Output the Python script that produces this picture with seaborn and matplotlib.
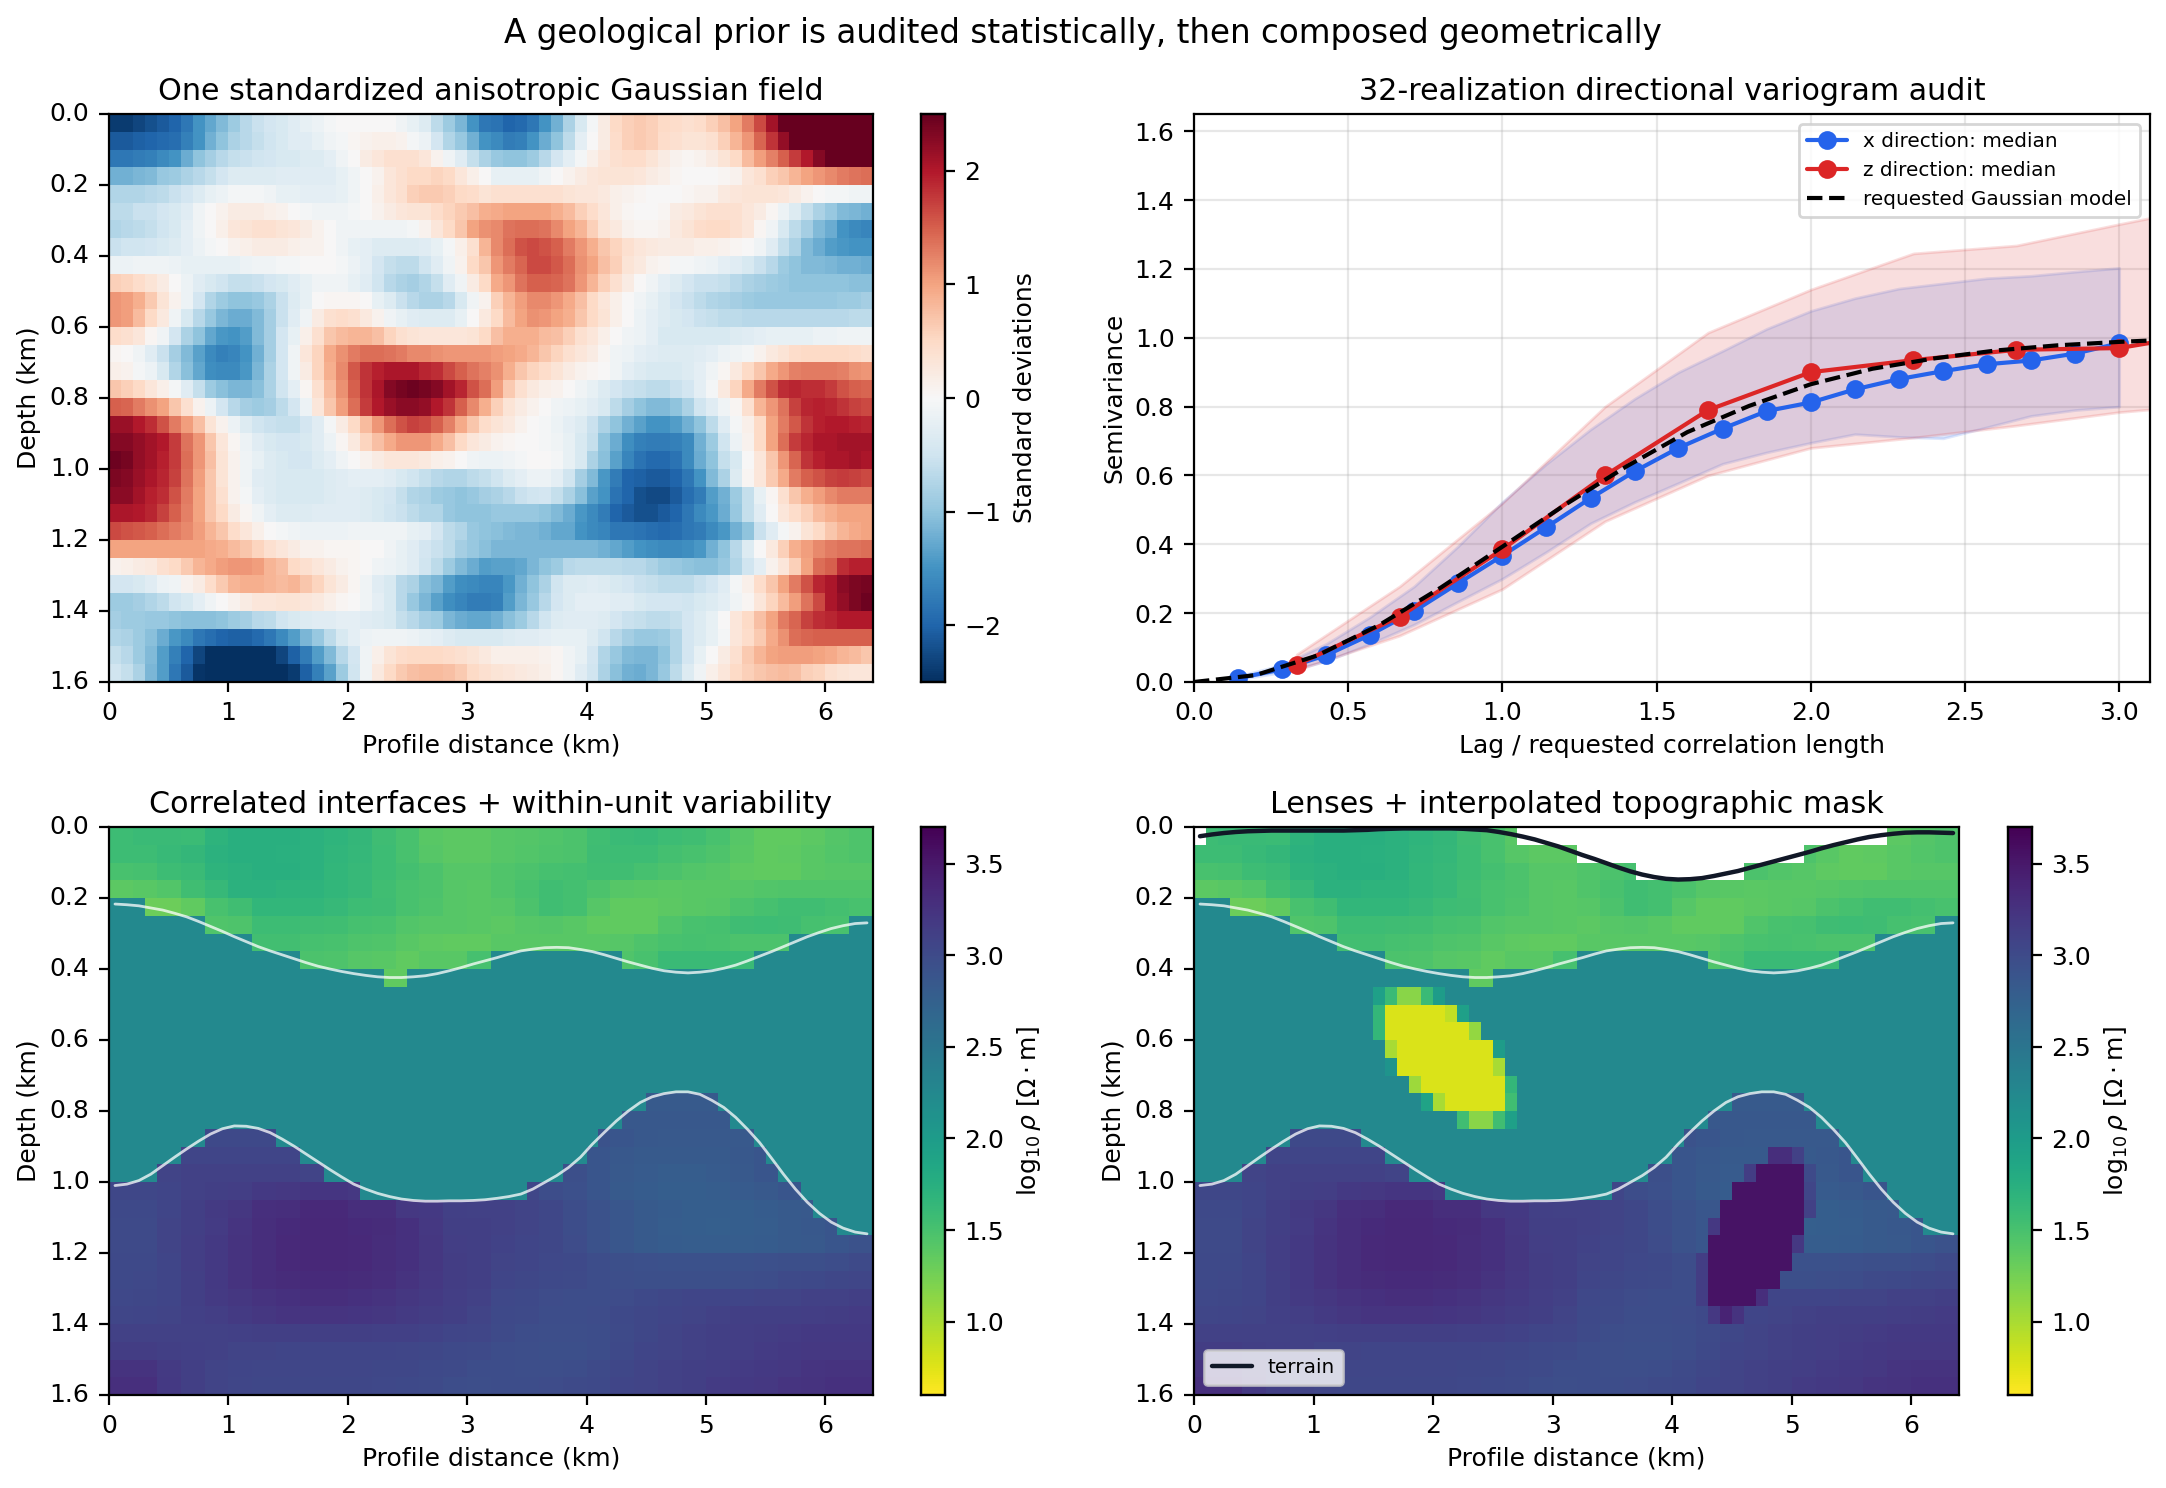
"""
Geological prior figure: gaussian field, variogram audit, layered resistivity models
"""
import numpy as np
import matplotlib
matplotlib.use('Agg')
import matplotlib.pyplot as plt
import seaborn as sns

# ---- standardized field, 32 rows x 64 columns, read cell by cell ----
FIELD_ROWS = [
    [-2.4,-2.4,-2.3,-2.2,-2.1,-2.0,-1.8,-1.5,-1.3,-1.1,-.9,-.7,-.55,-.45,-.4,-.3,-.2,-.15,-.05,0,0,0,0,0,-.1,-.2,-.35,-.65,-.9,-1.15,-1.5,-1.8,
     -1.85,-2.0,-1.95,-1.8,-1.5,-1.2,-.8,-.4,-.05,.2,.5,.6,.65,.6,.5,.45,.4,.45,.6,.75,1.0,1.3,1.65,2.1,2.5,2.5,2.5,2.5,2.5,2.5,2.5,2.5],
    [-2.1,-2.1,-2.05,-2.0,-1.95,-1.9,-1.7,-1.5,-1.2,-1.0,-.8,-.7,-.6,-.5,-.4,-.3,-.3,-.2,-.1,-.05,.05,.1,.15,.15,.1,-.05,-.15,-.45,-.75,-.95,-1.2,-1.5,
     -1.6,-1.75,-1.7,-1.5,-1.25,-1.0,-.65,-.25,0,.2,.45,.6,.65,.6,.45,.4,.35,.35,.4,.6,.85,1.1,1.45,1.8,2.2,2.5,2.5,2.5,2.5,2.5,2.5,2.5],
    [-1.8,-1.8,-1.75,-1.7,-1.6,-1.5,-1.25,-1.0,-.85,-.7,-.6,-.55,-.5,-.45,-.4,-.4,-.35,-.35,-.25,-.1,0,.2,.3,.4,.4,.4,.3,.1,-.1,-.3,-.6,-.8,
     -.95,-1.0,-1.0,-.9,-.7,-.45,-.25,-.05,.15,.3,.4,.45,.45,.35,.2,.1,.05,.1,.2,.35,.5,.8,1.05,1.25,1.5,1.75,2.0,2.3,2.5,2.5,2.5,2.5],
    [-1.2,-1.2,-1.15,-1.1,-.95,-.9,-.8,-.7,-.6,-.45,-.35,-.35,-.35,-.35,-.3,-.3,-.3,-.3,-.3,-.2,-.1,0,.1,.3,.4,.5,.5,.55,.5,.3,.15,0,
     -.2,-.2,-.2,-.2,-.1,0,.1,.2,.3,.35,.35,.35,.3,.2,.15,.05,0,0,0,.05,.1,.3,.4,.6,.7,.85,1.0,1.1,1.2,1.3,1.35,1.4],
    [-.75,-.75,-.75,-.7,-.65,-.55,-.45,-.35,-.2,-.15,-.05,-.05,-.05,-.1,-.2,-.2,-.25,-.25,-.25,-.2,-.1,0,.15,.3,.4,.6,.65,.65,.6,.5,.45,.35,
     .4,.4,.4,.4,.4,.4,.35,.3,.3,.25,.15,.1,.05,0,0,0,.05,.1,.1,.25,.3,.35,.35,.35,.3,.2,.1,0,-.05,-.05,-.1,-.1],
    [-.65,-.65,-.55,-.55,-.45,-.4,-.3,-.1,0,.1,.2,.2,.2,.15,.1,0,-.05,-.1,-.1,-.1,-.05,0,.1,.2,.3,.35,.35,.45,.55,.65,.75,.9,
     .95,1.0,1.0,1.0,1.0,.9,.8,.6,.45,.3,.15,.05,0,0,.05,.2,.25,.35,.4,.4,.4,.3,.2,.05,-.15,-.35,-.6,-.8,-.95,-1.1,-1.15,-1.2],
    [-.75,-.7,-.65,-.6,-.5,-.4,-.25,-.1,0,.15,.3,.35,.4,.4,.35,.3,.2,.1,0,-.1,-.1,-.1,-.1,-.1,-.1,-.05,.1,.3,.5,.7,1.0,1.15,
     1.2,1.35,1.4,1.4,1.35,1.2,1.0,.85,.6,.35,.25,.1,.05,.05,.1,.25,.35,.45,.5,.5,.4,.3,.05,-.1,-.4,-.65,-.85,-1.1,-1.25,-1.5,-1.6,-1.65],
    [-.55,-.5,-.5,-.45,-.4,-.35,-.25,-.15,-.05,0,.1,.15,.2,.2,.2,.15,.1,.1,0,-.1,-.2,-.25,-.35,-.35,-.35,-.35,-.3,-.2,-.05,.15,.4,.85,
     1.2,1.4,1.6,1.65,1.6,1.5,1.3,1.1,.9,.7,.55,.4,.3,.25,.2,.2,.2,.15,.15,.1,.05,0,-.1,-.3,-.6,-.8,-1.1,-1.25,-1.4,-1.45,-1.5,-1.5],
    [-.15,-.15,-.1,-.1,-.1,-.15,-.2,-.2,-.2,-.2,-.2,-.15,-.1,-.1,-.05,-.05,0,0,0,-.05,-.15,-.25,-.45,-.6,-.65,-.65,-.5,-.3,-.1,.1,.5,.7,
     1.1,1.3,1.45,1.65,1.65,1.55,1.4,1.15,1.0,.75,.6,.35,.25,.1,.05,-.05,-.05,-.1,-.15,-.25,-.3,-.4,-.55,-.7,-.9,-1.0,-1.1,-1.1,-1.15,-1.2,-1.2,-1.25],
    [.6,.55,.45,.35,.2,0,-.15,-.3,-.4,-.5,-.6,-.6,-.55,-.45,-.4,-.3,-.2,-.1,-.1,-.1,-.2,-.3,-.5,-.7,-.8,-.85,-.75,-.6,-.3,-.1,.2,.5,
     .95,1.1,1.35,1.5,1.5,1.45,1.35,1.1,.85,.6,.4,.2,0,-.1,-.25,-.35,-.45,-.55,-.55,-.6,-.7,-.8,-.85,-.9,-.95,-1.0,-1.0,-1.0,-1.0,-1.0,-1.05,-1.05],
    [1.1,1.05,.9,.65,.35,.1,-.15,-.45,-.75,-.9,-1.0,-1.0,-.95,-.8,-.55,-.35,-.2,0,.05,.05,.05,0,-.2,-.35,-.55,-.7,-.8,-.8,-.7,-.4,-.1,.1,
     .6,.85,1.05,1.2,1.2,1.1,.95,.75,.5,.3,.15,0,-.1,-.2,-.35,-.45,-.55,-.65,-.75,-.8,-.85,-.9,-.95,-.95,-.95,-.95,-.95,-.95,-.95,-.9,-.9,-.85],
    [1.1,1.05,.8,.5,.25,-.1,-.4,-.7,-.95,-1.15,-1.25,-1.25,-1.1,-.85,-.55,-.3,-.1,.2,.4,.45,.4,.25,.1,-.1,-.2,-.3,-.35,-.35,-.35,-.2,0,.25,
     .5,.8,1.0,1.15,1.1,1.0,.9,.7,.5,.35,.15,0,-.15,-.25,-.35,-.4,-.45,-.55,-.6,-.65,-.65,-.7,-.7,-.7,-.7,-.7,-.7,-.7,-.7,-.7,-.65,-.65],
    [.45,.4,.3,.05,-.1,-.45,-.8,-1.0,-1.3,-1.45,-1.5,-1.4,-1.1,-.85,-.45,-.2,.15,.4,.7,.8,.85,.85,.75,.55,.4,.35,.3,.3,.3,.3,.35,.5,
     .75,.9,.9,.9,.8,.75,.6,.4,.3,.15,0,-.1,-.15,-.25,-.4,-.4,-.4,-.4,-.4,-.4,-.35,-.3,-.25,-.2,-.2,-.2,-.2,-.15,-.15,-.1,-.1,-.1],
    [.05,0,-.1,-.3,-.55,-.85,-1.1,-1.35,-1.6,-1.7,-1.65,-1.5,-1.2,-.85,-.45,-.1,.3,.55,.95,1.15,1.3,1.4,1.4,1.35,1.3,1.2,1.2,1.15,1.1,1.1,1.1,1.1,
     1.05,1.0,.95,.85,.7,.55,.4,.3,.2,.05,-.1,-.15,-.25,-.3,-.35,-.35,-.35,-.3,-.25,-.15,-.1,-.05,.1,.25,.35,.45,.5,.5,.5,.5,.45,.4],
    [.15,.1,-.05,-.15,-.4,-.75,-1.05,-1.3,-1.55,-1.6,-1.6,-1.45,-1.15,-.8,-.45,-.1,.2,.55,.9,1.2,1.55,1.8,1.95,2.05,2.05,2.05,1.9,1.85,1.65,1.5,1.35,1.25,
     1.15,.9,.7,.55,.45,.35,.2,.1,.05,0,-.1,-.25,-.35,-.4,-.4,-.4,-.35,-.25,-.1,.05,.25,.5,.7,.95,1.1,1.25,1.3,1.3,1.3,1.25,1.15,1.1],
    [.7,.6,.5,.3,.15,-.05,-.3,-.6,-.9,-1.05,-1.15,-1.15,-1.05,-.8,-.5,-.25,.05,.4,.8,1.15,1.5,1.8,2.05,2.3,2.4,2.45,2.4,2.3,2.1,1.9,1.6,1.4,
     1.05,.65,.4,.25,.15,.1,0,-.1,-.2,-.35,-.45,-.55,-.6,-.65,-.65,-.55,-.45,-.25,-.05,.25,.55,.95,1.3,1.6,1.85,1.9,1.85,1.85,1.75,1.6,1.5,1.45],
    [1.5,1.45,1.3,1.15,1.0,.7,.4,.1,-.15,-.45,-.7,-.85,-.9,-.85,-.65,-.45,-.15,.3,.7,1.05,1.4,1.75,2.0,2.15,2.25,2.25,2.2,2.0,1.8,1.5,1.2,.9,
     .6,.35,.2,.1,0,-.1,-.15,-.2,-.3,-.4,-.65,-.85,-1.0,-1.1,-1.1,-1.0,-.8,-.5,-.3,-.1,.05,.4,.85,1.1,1.35,1.7,1.9,1.95,1.9,1.8,1.7,1.65],
    [2.15,2.15,2.0,1.85,1.6,1.3,1.05,.75,.35,.1,-.15,-.35,-.5,-.55,-.6,-.6,-.45,-.3,-.05,.2,.5,.8,1.1,1.4,1.6,1.7,1.65,1.5,1.25,.95,.7,.45,
     .35,.25,.1,0,-.05,-.15,-.25,-.35,-.55,-.8,-1.0,-1.2,-1.35,-1.5,-1.5,-1.4,-1.2,-1.0,-.65,-.3,-.05,.15,.5,1.0,1.3,1.55,1.8,1.95,2.0,2.0,1.95,1.9],
    [2.3,2.3,2.2,2.1,2.0,1.75,1.35,1.1,.7,.3,.05,-.15,-.3,-.4,-.45,-.45,-.4,-.3,-.15,.05,.25,.55,.75,.95,1.1,1.1,1.1,.95,.75,.5,.3,.2,
     .1,.05,0,0,-.05,-.1,-.2,-.4,-.6,-1.0,-1.25,-1.55,-1.7,-1.75,-1.75,-1.7,-1.6,-1.2,-.9,-.5,-.15,.1,.5,1.0,1.4,1.75,1.9,2.05,2.05,2.1,2.1,2.1],
    [2.45,2.4,2.2,2.1,1.95,1.75,1.4,1.1,.75,.35,.1,-.1,-.2,-.35,-.4,-.45,-.45,-.35,-.25,-.1,0,.1,.2,.3,.3,.3,.25,.15,.1,0,-.1,-.15,
     -.15,-.1,-.05,0,0,-.05,-.2,-.4,-.8,-1.05,-1.35,-1.65,-1.85,-1.95,-1.95,-1.85,-1.6,-1.25,-1.0,-.6,-.4,0,.3,.7,1.1,1.45,1.8,1.95,2.05,2.05,2.1,2.05],
    [2.35,2.3,2.15,2.05,1.9,1.7,1.35,1.05,.7,.35,.1,-.1,-.3,-.35,-.4,-.4,-.4,-.4,-.35,-.3,-.25,-.25,-.25,-.3,-.4,-.5,-.6,-.7,-.75,-.75,-.65,-.6,
     -.5,-.35,-.25,-.15,-.15,-.25,-.5,-.85,-1.1,-1.45,-1.75,-2.0,-2.05,-2.1,-2.1,-2.0,-1.8,-1.5,-1.1,-.8,-.35,.05,.3,.65,.95,1.3,1.5,1.6,1.7,1.75,1.7,1.65],
    [2.25,2.25,2.1,1.95,1.85,1.6,1.3,1.0,.7,.4,.1,-.05,-.25,-.35,-.4,-.4,-.4,-.4,-.35,-.3,-.3,-.35,-.4,-.45,-.6,-.75,-.8,-.9,-.95,-1.0,-.95,-.85,
     -.8,-.7,-.55,-.5,-.45,-.6,-.8,-1.05,-1.35,-1.5,-1.85,-2.0,-2.2,-2.25,-2.25,-2.1,-1.9,-1.75,-1.4,-1.2,-.9,-.6,-.2,.05,.4,.7,.9,1.05,1.2,1.3,1.3,1.3],
    [2.05,2.05,2.0,1.9,1.7,1.5,1.25,1.0,.7,.5,.2,.05,-.1,-.25,-.35,-.35,-.35,-.3,-.3,-.3,-.3,-.35,-.4,-.5,-.55,-.65,-.75,-.75,-.95,-1.0,-1.0,-1.0,
     -.95,-.95,-.95,-.95,-1.0,-1.1,-1.25,-1.45,-1.6,-1.75,-2.0,-2.1,-2.2,-2.2,-2.1,-2.0,-1.8,-1.6,-1.45,-1.25,-.95,-.6,-.3,0,.3,.45,.6,.8,.9,1.0,1.0,1.0],
    [1.65,1.6,1.55,1.5,1.4,1.3,1.2,1.05,.85,.7,.45,.3,.15,0,-.05,-.1,-.15,-.15,-.15,-.15,-.1,-.1,-.1,-.1,-.1,-.2,-.25,-.45,-.65,-.75,-.95,-1.0,
     -1.05,-1.1,-1.15,-1.15,-1.2,-1.3,-1.3,-1.5,-1.6,-1.65,-1.8,-1.8,-1.85,-1.9,-1.95,-1.9,-1.8,-1.75,-1.6,-1.45,-1.2,-1.0,-.55,-.3,-.05,.1,.35,.5,.7,.85,.95,1.0],
    [1.0,1.0,1.0,1.0,1.0,1.0,1.0,1.0,.95,.9,.8,.7,.55,.4,.3,.2,.1,.1,.05,.05,.05,0,0,-.1,-.2,-.3,-.45,-.55,-.65,-.85,-.95,-1.05,
     -1.15,-1.15,-1.15,-1.15,-1.15,-1.15,-1.15,-1.15,-1.15,-1.2,-1.3,-1.4,-1.5,-1.55,-1.6,-1.6,-1.55,-1.45,-1.2,-1.0,-.7,-.35,0,.25,.6,.9,1.05,1.2,1.3,1.35,1.35,1.4],
    [.1,.15,.2,.25,.4,.5,.65,.85,.95,1.05,1.1,1.1,1.05,.85,.75,.5,.4,.3,.2,.1,.05,0,-.1,-.15,-.2,-.3,-.5,-.65,-.9,-1.1,-1.25,-1.4,
     -1.35,-1.35,-1.3,-1.15,-1.0,-.9,-.7,-.65,-.65,-.65,-.65,-.7,-.7,-.8,-.9,-.95,-1.0,-1.05,-1.05,-.95,-.75,-.5,-.25,.1,.3,.6,1.0,1.4,1.5,1.85,1.95,1.95],
    [-.45,-.45,-.4,-.3,-.15,-.1,.1,.2,.45,.65,.85,.9,.9,.85,.8,.85,.7,.55,.35,.2,.05,-.1,-.3,-.4,-.7,-.8,-1.05,-1.15,-1.4,-1.55,-1.6,-1.65,
     -1.65,-1.45,-1.2,-1.0,-.8,-.5,-.35,-.35,-.3,-.35,-.4,-.45,-.55,-.6,-.65,-.65,-.65,-.55,-.45,-.3,-.05,.15,.45,.7,1.0,1.3,1.6,1.9,2.05,2.25,2.35,2.4],
    [-.9,-.9,-.85,-.75,-.65,-.5,-.4,-.25,-.1,0,.1,.2,.3,.3,.35,.35,.3,.25,.15,.05,0,-.1,-.25,-.4,-.7,-.95,-1.15,-1.35,-1.55,-1.65,-1.75,-1.75,
     -1.7,-1.4,-1.15,-.95,-.7,-.45,-.35,-.25,-.25,-.25,-.3,-.3,-.4,-.45,-.45,-.45,-.5,-.4,-.35,-.25,-.1,.05,.3,.55,.8,1.05,1.35,1.65,2.05,2.2,2.35,2.45],
    [-.85,-.9,-.9,-.95,-.95,-1.0,-1.05,-1.05,-1.05,-1.0,-.9,-.85,-.7,-.65,-.5,-.4,-.35,-.3,-.3,-.25,-.25,-.3,-.35,-.4,-.6,-.7,-.85,-.9,-1.15,-1.25,-1.3,-1.3,
     -1.2,-1.05,-.9,-.7,-.5,-.35,-.3,-.3,-.3,-.35,-.45,-.55,-.6,-.65,-.65,-.6,-.45,-.35,-.2,0,.3,.5,.75,1.0,1.3,1.45,1.7,1.85,1.9,2.0,2.0,2.0],
    [-.75,-.8,-.9,-1.05,-1.25,-1.45,-1.6,-1.8,-1.9,-2.0,-2.05,-2.05,-1.95,-1.8,-1.6,-1.4,-1.15,-.95,-.65,-.4,-.25,-.15,-.1,-.1,-.1,-.15,-.2,-.25,-.35,-.4,-.4,-.4,
     -.4,-.35,-.3,-.3,-.25,-.2,-.2,-.2,-.35,-.5,-.7,-.85,-.95,-.95,-.9,-.75,-.45,-.35,-.2,-.05,.3,.45,.65,.95,1.15,1.4,1.45,1.5,1.5,1.5,1.5,1.5],
    [-.6,-.7,-.9,-1.1,-1.4,-1.7,-2.0,-2.3,-2.5,-2.5,-2.5,-2.5,-2.5,-2.5,-2.3,-2.05,-1.75,-1.4,-1.1,-.7,-.45,-.1,.15,.35,.45,.5,.5,.5,.45,.4,.35,.25,
     .15,.15,.15,.15,.1,.05,-.1,-.2,-.45,-.75,-.95,-1.1,-1.15,-1.15,-1.0,-.75,-.45,-.2,0,.2,.4,.65,.85,1.0,1.05,1.05,1.05,1.0,.95,.85,.8,.7],
    [-.5,-.6,-.8,-1.15,-1.4,-1.8,-2.1,-2.45,-2.5,-2.5,-2.5,-2.5,-2.5,-2.5,-2.5,-2.4,-2.05,-1.7,-1.35,-.9,-.5,-.1,.25,.5,.65,.75,.8,.8,.75,.65,.5,.4,
     .35,.3,.25,.2,.15,.05,-.1,-.3,-.5,-.8,-1.05,-1.2,-1.25,-1.15,-.95,-.65,-.35,-.1,.15,.3,.5,.6,.7,.75,.8,.75,.6,.55,.4,.35,.3,.3],
]

# ---- variogram medians and envelopes ----
X_LAGS = [.143,.286,.429,.571,.714,.857,1.0,1.143,1.286,1.429,1.571,1.714,1.857,2.0,2.143,2.286,2.429,2.571,2.714,2.857,3.0]
X_MEDIAN = [.011,.037,.078,.137,.206,.287,.367,.45,.534,.612,.68,.736,.787,.812,.85,.88,.903,.923,.934,.954,.984]
X_UPPER = [.017,.05,.111,.189,.278,.395,.523,.634,.734,.823,.90,.962,1.026,1.078,1.115,1.143,1.158,1.173,1.18,1.192,1.203]
X_LOWER = [.008,.028,.061,.111,.167,.234,.30,.378,.461,.523,.578,.634,.667,.695,.72,.712,.708,.74,.773,.79,.80]
Z_LAGS = [.333,.667,1.0,1.333,1.667,2.0,2.333,2.667,3.0,3.333]
Z_MEDIAN = [.05,.19,.385,.60,.79,.90,.935,.965,.97,1.02]
Z_UPPER = [.08,.278,.52,.80,1.015,1.14,1.245,1.268,1.33,1.39]
Z_LOWER = [.035,.135,.27,.467,.60,.68,.71,.745,.784,.81]
MODEL_LAGS = [0,.2,.4,.6,.8,1.0,1.2,1.4,1.6,1.8,2.0,2.2,2.4,2.6,2.8,3.0,3.1]
MODEL_VALUES = [0,.02,.077,.165,.274,.393,.513,.625,.726,.802,.865,.91,.94,.963,.978,.988,.992]

# ---- layered model: unit values in hundredths of log10 rho ----
MIDDLE_UNIT = 2.24
# first row of the middle unit / first row of the lower unit, per column
TOP_ROW = [4]*3 + [5]*5 + [6]*4 + [7]*4 + [8]*7 + [9]*2 + [8]*7 + [7]*11 + [8]*11 + [7]*3 + [6]*5 + [5]*2
BASE_ROW = ([20]*4 + [19]*2 + [18]*2 + [17]*6 + [18]*2 + [19]*2 + [20]*3 + [21]*14 + [20]*3 + [19]*2 + [18, 17, 17, 16, 16]
            + [15]*6 + [16, 17, 17, 18, 19, 20, 20, 21, 22, 22, 23, 23, 23])

# upper unit rows 0-8, two columns per value
UPPER_UNIT = [
    [158,160,160,159,170,175,175,174,172,168,165,156,150,140,138,138,142,143,145,148,155,160,161,158,155,150,142,136,136,138,143,146],
    [158,158,161,165,172,175,175,173,172,167,163,158,150,142,138,138,142,144,146,148,156,158,157,153,150,146,140,136,137,140,144,146],
    [150,152,157,160,170,172,175,174,172,166,162,158,153,148,142,142,145,148,152,153,155,155,152,148,144,142,137,136,136,140,142,142],
    [138,140,144,155,162,172,172,170,170,166,162,155,150,148,142,140,145,150,155,153,148,142,140,139,140,141,142,144,145,145,145,145],
    [130,130,130,136,150,155,166,166,166,162,158,156,150,146,142,140,142,148,155,153,142,136,136,138,140,142,148,152,155,155,153,150],
    [130,130,130,136,145,146,158,158,156,155,152,150,144,142,142,140,138,142,143,140,136,136,136,145,150,152,156,158,156,152,150,150],
    [150,150,150,150,150,150,154,154,152,150,147,145,140,137,136,136,140,140,140,141,141,142,146,150,152,150,148,148,148,148,148,148],
    [150,150,150,150,150,150,150,150,148,146,142,140,136,140,140,152,150,150,150,150,150,145,150,160,160,160,160,158,158,158,158,158],
    [136]*32,
]

# lower unit rows 15-31, two columns per value
LOWER_UNIT = [
    [300]*22 + [284]*10,
    [300]*20 + [286]*12,
    [300]*4 + [302]*3 + [300]*9 + [300,300,300,300,292,288,286,285,285,285,285,286,288,290,290,290],
    [305,305,305,306,306,306,306,306,305,305,305,305,305,305,305,305,300,300,300,300,288,286,284,283,283,284,286,288,290,290,290,290],
    [305,305,308,310,310,310,310,310,308,305,305,305,305,305,305,305,300,300,300,296,288,285,282,280,280,282,285,288,290,290,290,290],
    [304,304,307,310,312,314,318,320,322,322,320,318,315,315,315,315,305,305,298,294,288,284,281,279,278,280,282,285,288,288,288,288],
    [302,302,307,312,317,321,328,330,334,334,330,329,320,318,311,310,310,308,304,298,292,287,284,281,279,278,279,281,283,285,288,290],
    [300,300,308,313,316,323,330,333,336,336,333,332,327,320,313,312,310,308,304,298,292,287,284,280,278,277,278,280,283,286,288,290],
    [300,300,308,314,318,324,330,334,336,336,334,331,327,321,314,312,309,307,304,299,292,287,284,281,280,280,280,281,283,285,288,292],
    [301,302,307,314,319,325,330,334,335,335,334,331,327,321,315,312,308,306,303,301,298,296,294,293,293,293,293,294,295,296,298,300],
    [302,303,307,313,319,324,329,332,333,333,332,329,325,320,315,312,306,304,302,300,298,297,296,295,295,296,297,298,300,302,304,305],
    [303,304,307,312,317,321,325,327,329,329,327,325,321,317,314,310,303,301,299,298,298,299,302,304,306,306,307,308,308,310,310,312],
    [305,306,308,311,314,317,321,323,323,323,322,321,317,315,312,308,302,300,298,298,299,301,304,306,308,310,312,312,313,314,315,316],
    [310,310,310,310,310,311,312,313,312,312,312,311,311,309,307,305,300,298,297,297,298,300,304,308,310,312,314,315,316,318,318,318],
    [315,315,313,311,310,308,308,307,306,306,306,306,305,304,302,300,298,297,296,296,298,302,306,308,310,312,314,316,318,320,320,320],
    [324,324,317,312,308,306,305,305,305,305,305,304,304,302,300,298,298,297,297,298,300,304,308,310,312,314,316,318,320,323,325,325],
    [328,328,319,313,308,305,304,304,304,304,304,303,302,300,298,297,298,298,299,300,302,306,308,310,312,316,318,320,323,325,327,327],
]

# lens cells as (row, first column, log10 rho values)
LENS_CELLS = [
    (9, 15, [1.95, 1.6, 1.15, 1.15, 1.6, 2.0]),
    (10, 15, [1.65] + [.78]*5 + [.9, 1.95]),
    (11, 15, [1.65] + [.78]*7 + [1.1]),
    (12, 16, [1.0] + [.78]*8 + [2.0]),
    (13, 16, [2.1] + [.78]*8 + [1.0]),
    (14, 18, [1.05] + [.78]*7 + [1.65]),
    (15, 19, [1.9, 1.0] + [.78]*5 + [1.55]),
    (16, 22, [1.55, 1.15, 1.15, 1.55, 1.95]),
    (18, 48, [3.3, 3.3, 3.1]),
    (19, 46, [3.15] + [3.55]*4 + [3.0]),
    (20, 45, [3.55]*6 + [3.05]),
    (21, 44, [3.55]*7 + [3.1]),
    (22, 43, [3.2] + [3.55]*7),
    (23, 43, [3.55]*7 + [3.2]),
    (24, 42, [3.15] + [3.55]*7),
    (25, 42, [3.15] + [3.55]*6),
    (26, 42, [3.15] + [3.55]*4 + [3.3]),
    (27, 43, [3.2, 3.4, 3.25]),
]
# cells above the terrain, (row, first column, last column)
MASKED_CELLS = [(0, 0, 0), (0, 27, 57), (1, 32, 50), (2, 37, 45)]

# ---- interface and terrain depths (km), one per column ----
INTERFACE_UPPER = [.217,.219,.222,.228,.234,.243,.253,.266,.28,.294,.309,.323,.337,.349,.36,.371,.382,.392,.40,.407,.413,.418,.422,.424,.424,.422,.419,.413,.405,.396,.386,.377,
                   .368,.358,.349,.344,.34,.339,.34,.345,.351,.36,.37,.38,.389,.398,.405,.409,.411,.409,.405,.398,.389,.377,.364,.351,.337,.323,.309,.297,.286,.278,.272,.27]
INTERFACE_LOWER = [1.01,1.006,.996,.978,.954,.93,.907,.885,.865,.85,.842,.843,.849,.861,.879,.899,.921,.943,.965,.986,1.006,1.02,1.032,1.041,1.048,1.052,1.054,1.054,1.053,1.053,1.052,1.05,
                   1.046,1.041,1.034,1.02,1.001,.982,.959,.93,.893,.86,.828,.8,.776,.76,.751,.746,.746,.753,.77,.79,.818,.852,.889,.933,.978,1.02,1.057,1.088,1.113,1.13,1.141,1.146]
TERRAIN = [.026,.021,.017,.014,.012,.011,.01,.01,.01,.01,.01,.01,.01,.009,.008,.006,.005,.004,.004,.004,.004,.004,.005,.007,.009,.014,.02,.027,.035,.045,.055,.067,
           .079,.09,.102,.114,.125,.134,.141,.146,.148,.147,.144,.138,.131,.124,.115,.106,.097,.088,.079,.07,.06,.051,.043,.035,.028,.023,.019,.016,.015,.015,.016,.017]

DX, DZ = 0.1, 0.05
DEPTH_TICKS = [0, .2, .4, .6, .8, 1.0, 1.2, 1.4, 1.6]
W, H = 2166, 1488

sns.set_theme(style='ticks', rc={'axes.linewidth': 0.8, 'xtick.major.width': 0.8, 'ytick.major.width': 0.8})
plt.rcParams['font.family'] = ['DejaVu Sans']
plt.rcParams['axes.edgecolor'] = 'black'
plt.rcParams['xtick.color'] = 'black'
plt.rcParams['ytick.color'] = 'black'
plt.rcParams['axes.labelcolor'] = 'black'
plt.rcParams['text.color'] = 'black'
LABEL_SIZE = 9
TICK_SIZE = 9
TITLE_SIZE = 10.85


def place(fig, left, top, right, bottom):
    return fig.add_axes([left / W, 1 - bottom / H, (right - left) / W, (bottom - top) / H])


def style_section(ax, cax, title, cbar_ticks):
    ax.set_xlim(0, 64)
    ax.set_ylim(32, 0)
    ax.set_xticks(np.arange(0, 7) / DX)
    ax.set_xticklabels([str(i) for i in range(7)], rotation=0, fontsize=TICK_SIZE)
    ax.set_yticks(np.array(DEPTH_TICKS) / DZ)
    ax.set_yticklabels([f'{d:.1f}' for d in DEPTH_TICKS], rotation=0, fontsize=TICK_SIZE)
    ax.tick_params(length=3.5, width=0.8, left=True, bottom=True)
    ax.set_xlabel('Profile distance (km)', fontsize=LABEL_SIZE, labelpad=3)
    ax.set_ylabel('Depth (km)', fontsize=LABEL_SIZE, labelpad=3)
    ax.set_title(title, fontsize=TITLE_SIZE, pad=5)
    for spine in ax.spines.values():
        spine.set_visible(True)
        spine.set_linewidth(0.8)
    cax.set_yticks(cbar_ticks)
    cax.tick_params(labelsize=TICK_SIZE, length=3.5, width=0.8, right=True)
    cax.yaxis.label.set_size(LABEL_SIZE)
    cax.yaxis.labelpad = 4
    for spine in cax.spines.values():
        spine.set_visible(True)
        spine.set_linewidth(0.8)


def draw_interfaces(ax):
    x_cells = np.arange(64) + 0.5
    for depth in (INTERFACE_UPPER, INTERFACE_LOWER):
        sns.lineplot(x=x_cells, y=np.array(depth) / DZ, color='white', alpha=0.75, linewidth=1.0,
                     sort=False, estimator=None, ax=ax)


def build_model():
    upper = np.repeat(np.array(UPPER_UNIT), 2, axis=1) / 100
    lower = np.repeat(np.array(LOWER_UNIT), 2, axis=1) / 100
    grid = np.full((32, 64), MIDDLE_UNIT)
    for col in range(64):
        grid[:TOP_ROW[col], col] = upper[:TOP_ROW[col], col]
        grid[BASE_ROW[col]:, col] = lower[BASE_ROW[col] - 15:, col]
    return grid


fig = plt.figure(figsize=(W / 200, H / 200), dpi=200)
fig.suptitle('A geological prior is audited statistically, then composed geometrically',
             fontsize=11.75, x=0.5, y=1 - 33 / H, va='center')

# top left: field
ax = place(fig, 109, 114, 873, 682)
cax = place(fig, 921, 114, 945, 682)
sns.heatmap(np.array(FIELD_ROWS), cmap='RdBu_r', vmin=-2.5, vmax=2.5, ax=ax, cbar_ax=cax,
            cbar_kws={'label': 'Standard deviations'})
style_section(ax, cax, 'One standardized anisotropic Gaussian field', [-2, -1, 0, 1, 2])

# top right: variogram audit
ax = place(fig, 1194, 114, 2150, 682)
blue, red = '#2563eb', '#dc2626'
ax.fill_between(X_LAGS, X_LOWER, X_UPPER, color=blue, alpha=0.15)
ax.fill_between(Z_LAGS, Z_LOWER, Z_UPPER, color=red, alpha=0.15)
sns.lineplot(x=X_LAGS, y=X_MEDIAN, color=blue, marker='o', markersize=6, markeredgecolor=blue, linewidth=1.5,
             estimator=None, label='x direction: median', ax=ax)
sns.lineplot(x=Z_LAGS, y=Z_MEDIAN, color=red, marker='o', markersize=6, markeredgecolor=red, linewidth=1.5,
             estimator=None, label='z direction: median', ax=ax)
sns.lineplot(x=MODEL_LAGS, y=MODEL_VALUES, color='black', linestyle='--', linewidth=1.5,
             estimator=None, label='requested Gaussian model', ax=ax)
ax.set_xlim(0, 3.1)
ax.set_ylim(0, 1.65)
ax.set_xticks([0, .5, 1, 1.5, 2, 2.5, 3])
ax.set_yticks([0, .2, .4, .6, .8, 1.0, 1.2, 1.4, 1.6])
ax.tick_params(labelsize=TICK_SIZE, length=3.5, width=0.8)
ax.grid(True, color='#b0b0b0', alpha=0.3, linewidth=0.8)
ax.set_axisbelow(True)
ax.set_xlabel('Lag / requested correlation length', fontsize=LABEL_SIZE, labelpad=3)
ax.set_ylabel('Semivariance', fontsize=LABEL_SIZE, labelpad=3)
ax.set_title('32-realization directional variogram audit', fontsize=TITLE_SIZE, pad=5)
ax.legend(loc='upper right', fontsize=7.2, frameon=True, framealpha=0.8, edgecolor='#cccccc', fancybox=True)
for spine in ax.spines.values():
    spine.set_visible(True)
    spine.set_linewidth(0.8)

model = build_model()
log_label = r'$\log_{10}\rho$ [$\Omega\cdot$m]'
log_ticks = [1.0, 1.5, 2.0, 2.5, 3.0, 3.5]

# bottom left: layered model
ax = place(fig, 109, 827, 873, 1395)
cax = place(fig, 921, 827, 945, 1395)
sns.heatmap(model, cmap='viridis_r', vmin=0.6, vmax=3.7, ax=ax, cbar_ax=cax, cbar_kws={'label': log_label})
draw_interfaces(ax)
style_section(ax, cax, 'Correlated interfaces + within-unit variability', log_ticks)

# bottom right: lenses and terrain mask
composed = model.copy()
for row, first, values in LENS_CELLS:
    composed[row, first:first + len(values)] = values
for row, first, last in MASKED_CELLS:
    composed[row, first:last + 1] = np.nan
ax = place(fig, 1194, 827, 1959, 1395)
cax = place(fig, 2008, 827, 2032, 1395)
sns.heatmap(composed, cmap='viridis_r', vmin=0.6, vmax=3.7, ax=ax, cbar_ax=cax, cbar_kws={'label': log_label})
draw_interfaces(ax)
sns.lineplot(x=np.arange(64) + 0.5, y=np.array(TERRAIN) / DZ, color='#111827', linewidth=1.6,
             sort=False, estimator=None, label='terrain', ax=ax)
style_section(ax, cax, 'Lenses + interpolated topographic mask', log_ticks)
ax.legend(loc='lower left', fontsize=7.2, frameon=True, framealpha=0.8, edgecolor='#cccccc', fancybox=True)

fig.savefig('out.png', dpi=200)
